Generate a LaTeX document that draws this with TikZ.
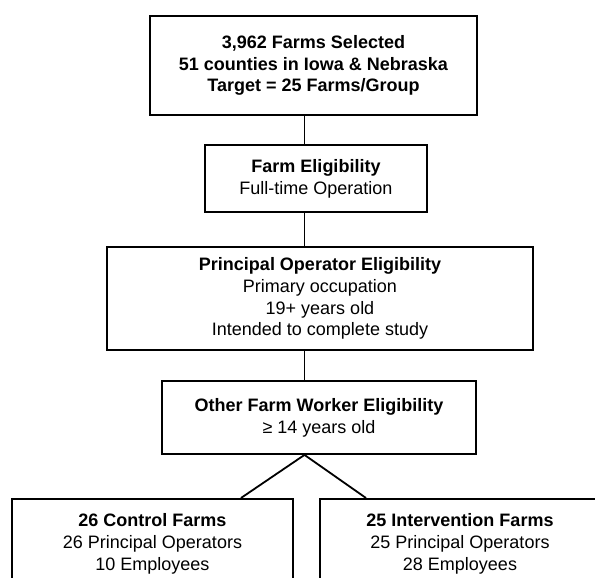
\documentclass[tikz,border=0pt]{standalone}
\usepackage{fontspec}
\setmainfont{Liberation Sans}
\begin{document}
\begin{tikzpicture}[x=1pt,y=1pt,
  box/.style={draw, line width=1.8pt, align=center, inner sep=0pt,
    font=\fontsize{18}{21.7}\selectfont},
  conn/.style={line width=1.8pt}]
\useasboundingbox (0,0) rectangle (595,-578);
\node[box, minimum width=327, minimum height=99] (b1) at (313.5,-65.5)
  {\textbf{3,962 Farms Selected}\\\textbf{51 counties in Iowa \& Nebraska}\\\textbf{Target = 25 Farms/Group}};
\node[box, minimum width=222, minimum height=67] (b2) at (316,-178.5)
  {\textbf{Farm Eligibility}\\Full-time Operation};
\node[box, minimum width=426, minimum height=103] (b3) at (320,-298.5)
  {\textbf{Principal Operator Eligibility}\\Primary occupation\\19+ years old\\Intended to complete study};
\node[box, minimum width=314, minimum height=73] (b4) at (319,-417.5)
  {\textbf{Other Farm Worker Eligibility}\\≥ 14 years old};
\node[box, minimum width=281, minimum height=90, anchor=north] (b5) at (152.5,-498)
  {\textbf{26 Control Farms}\\26 Principal Operators\\10 Employees};
\node[box, minimum width=280, minimum height=90, anchor=north] (b6) at (460,-498)
  {\textbf{25 Intervention Farms}\\25 Principal Operators\\28 Employees};
\coordinate (cx) at (304.5,0);
\coordinate (l1) at (241,-498);
\coordinate (r1) at (366,-498);
\draw[conn] (b1.south -| cx) -- (b2.north -| cx);
\draw[conn] (b2.south -| cx) -- (b3.north -| cx);
\draw[conn] (b3.south -| cx) -- (b4.north -| cx);
\draw[conn] (l1) -- (b4.south -| cx) -- (r1);
\end{tikzpicture}
\end{document}
